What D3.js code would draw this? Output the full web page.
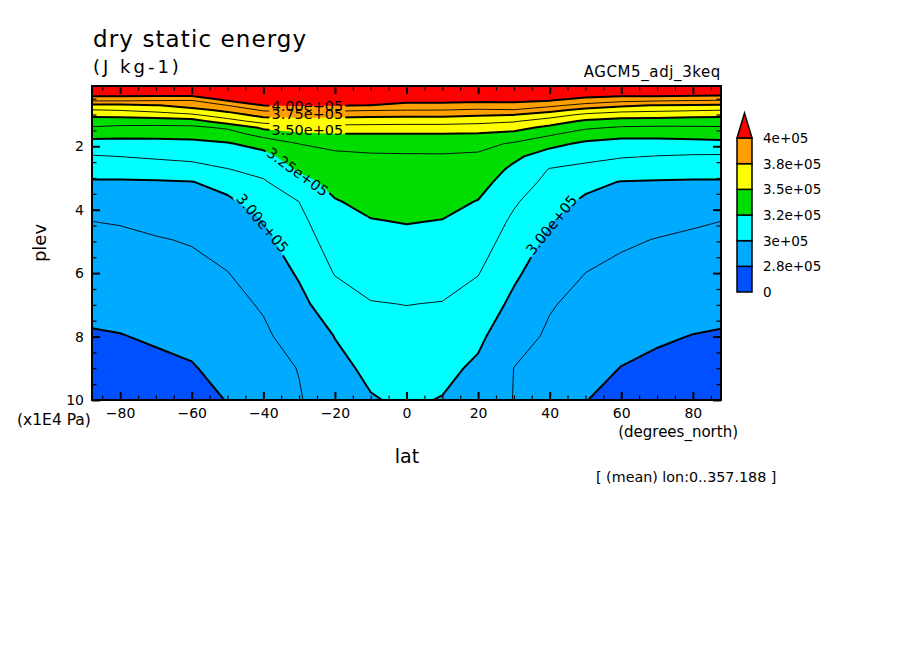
<!DOCTYPE html>
<html>
<head>
<meta charset="utf-8">
<title>dry static energy</title>
<script src="https://cdn.jsdelivr.net/npm/d3@7"></script>
<style>
  body { margin: 0; background: #fff; }
  text { font-family: "DejaVu Sans", sans-serif; }
</style>
</head>
<body>
<div id="chart"></div>
<script>
// grid: latitude columns, pressure rows (x1E4 Pa), values in kJ/kg
const lats = [-87.86, -80, -70, -60, -50, -40, -30, -20, -10, 0, 10, 20, 30, 40, 50, 60, 70, 80, 87.86];
const plevs = [0.1, 0.4, 0.56, 0.71, 0.86, 1.01, 1.21, 1.41, 1.62, 1.92, 2.32, 2.73, 3.13, 3.74, 4.34, 4.95, 5.96, 6.97, 7.98, 8.99, 10];
const dseKJ = [
  [411, 411, 411, 411, 411, 411, 411, 411, 411, 411, 411, 411, 411, 411, 411, 411, 411, 411, 411],
  [401.6, 401.6, 401.6, 401.6, 404.0, 405.6, 406.1, 405.9, 405.5, 405.1, 405.1, 404.9, 404.9, 403.8, 402.8, 401.8, 401.6, 400.7, 400.2],
  [388.6, 388.6, 387.6, 387.0, 400.5, 402.9, 403.7, 403.4, 402.8, 402.2, 402.2, 401.8, 401.8, 400.2, 395.5, 390.6, 388.6, 387.4, 386.6],
  [372.2, 371.6, 374.5, 379.5, 387.6, 400.2, 401.3, 400.8, 399.9, 397.4, 397.4, 395.8, 396.3, 390.8, 382.8, 377.5, 374.4, 373.7, 373.5],
  [361.9, 363.1, 366.7, 371.1, 378.1, 389.1, 392.7, 389.6, 388.3, 387.6, 387.4, 385.6, 386.7, 379.2, 371.1, 366.7, 365.0, 363.8, 362.6],
  [353.0, 353.8, 356.3, 360.7, 369.8, 379.4, 380.6, 379.8, 378.8, 378.1, 378.1, 376.3, 375.1, 368.4, 359.7, 355.9, 355.3, 353.9, 353.1],
  [344.1, 343.3, 343.2, 344.7, 357.1, 367.3, 368.2, 368.5, 367.7, 367.2, 367.2, 366.0, 363.6, 356.5, 347.6, 344.8, 344.4, 344.0, 344.0],
  [336.4, 334.9, 334.6, 334.8, 339.3, 352.5, 357.1, 358.3, 358.0, 357.8, 357.8, 356.9, 354.5, 346.9, 339.5, 336.3, 335.7, 335.9, 336.3],
  [329.3, 328.3, 328.2, 328.7, 332.0, 342.1, 347.6, 349.4, 349.5, 349.5, 349.5, 349.0, 346.2, 339.1, 331.5, 328.2, 328.6, 329.5, 330.4],
  [320.8, 320.8, 321.4, 322.1, 324.0, 329.2, 337.6, 340.5, 341.5, 341.8, 342.3, 341.3, 336.0, 328.5, 322.6, 320.9, 320.7, 320.8, 321.4],
  [311.6, 312.6, 314.3, 315.7, 318.1, 321.1, 331.9, 335.1, 336.1, 336.3, 336.3, 335.5, 327.4, 319.0, 315.8, 313.4, 312.1, 311.2, 310.9],
  [304.7, 304.8, 305.8, 307.8, 312.1, 315.9, 326.4, 331.9, 333.8, 334.2, 334.0, 332.4, 322.5, 311.9, 309.3, 306.0, 304.9, 304.5, 304.4],
  [298.8, 298.7, 299.0, 299.6, 304.0, 311.2, 320.8, 328.7, 331.5, 332.0, 331.7, 329.2, 319.1, 309.1, 303.1, 299.5, 299.1, 298.9, 298.8],
  [293.1, 293.4, 294.7, 295.8, 298.0, 305.6, 312.6, 324.3, 328.0, 328.8, 328.2, 324.6, 314.0, 304.9, 298.1, 296.1, 295.0, 293.8, 293.2],
  [287.6, 288.2, 290.3, 292.0, 295.1, 300.1, 309.5, 321.3, 324.6, 325.6, 324.8, 321.5, 310.4, 300.7, 295.2, 292.6, 290.9, 288.8, 287.6],
  [285.3, 285.6, 286.8, 288.3, 292.2, 297.4, 306.5, 318.3, 321.7, 322.6, 321.8, 318.4, 307.3, 297.7, 292.3, 289.1, 287.1, 285.8, 285.3],
  [281.5, 281.9, 283.2, 284.5, 287.4, 293.0, 301.5, 313.3, 316.9, 317.7, 317.0, 313.2, 302.3, 293.1, 287.6, 285.0, 283.5, 282.2, 281.6],
  [277.8, 278.3, 279.7, 281.1, 284.4, 288.6, 296.9, 306.9, 312.0, 312.7, 312.1, 307.8, 297.3, 288.4, 284.4, 281.6, 279.9, 278.5, 277.8],
  [274.1, 274.7, 276.2, 277.7, 281.4, 285.7, 292.4, 300.3, 307.1, 308.9, 307.6, 302.4, 292.3, 285.8, 281.4, 278.1, 276.2, 274.8, 274.2],
  [270.5, 271.3, 272.8, 274.3, 278.4, 283.4, 287.9, 297.1, 302.2, 305.2, 303.0, 298.0, 287.4, 283.6, 278.3, 274.8, 273.0, 271.7, 270.8],
  [267.0, 268.0, 269.5, 271.0, 275.4, 281.0, 286.7, 294.0, 299.3, 301.5, 299.5, 294.5, 287.2, 281.5, 275.2, 272.5, 270.0, 268.5, 267.5]
];

// tone levels (kJ/kg) and the colours between them, lowest first
const fillLevels = [275, 300, 325, 350, 375, 400];
const fillColors = ["#0050ff", "#00aaff", "#00ffff", "#00dd00", "#ffff00", "#ffa000", "#ff0000"];
const lineLevels = [275, 287.5, 300, 312.5, 325, 337.5, 350, 362.5, 375, 387.5, 400];
const legendLabels = ["0", "2.8e+05", "3e+05", "3.2e+05", "3.5e+05", "3.8e+05", "4e+05"];

const xMajor = [-80, -60, -40, -20, 0, 20, 40, 60, 80];
const yMajor = [2, 4, 6, 8, 10];

// contour labels, anchored in data space
const contourLabels = [
  { text: "4.00e+05", lat: -27.7, plev: 0.73, angle: 0 },
  { text: "3.75e+05", lat: -27.7, plev: 0.97, angle: 0 },
  { text: "3.50e+05", lat: -27.7, plev: 1.49, angle: 0 },
  { text: "3.25e+05", lat: -30.4, plev: 2.81, angle: 36 },
  { text: "3.00e+05", lat: -40.2, plev: 4.42, angle: 50 },
  { text: "3.00e+05", lat: 40.5, plev: 4.48, angle: -51 }
];

const width = 904, height = 654;
const frame = { left: 92, right: 721, top: 86, bottom: 400 };

const x = d3.scaleLinear().domain([-87.86, 87.86]).range([frame.left, frame.right]);
const y = d3.scaleLinear().domain([0.1, 10]).range([frame.top, frame.bottom]);

const svg = d3.select("#chart").append("svg")
  .attr("width", width)
  .attr("height", height);

const defs = svg.append("defs");
defs.append("clipPath").attr("id", "plotClip")
  .append("rect")
  .attr("x", frame.left).attr("y", frame.top)
  .attr("width", frame.right - frame.left)
  .attr("height", frame.bottom - frame.top);

// pad the grid by one cell each side (copy of the edge) so the contour
// generator's border handling falls outside the frame
const nx = lats.length + 2, ny = plevs.length + 2;
const grid = new Array(nx * ny);
for (let j = 0; j < ny; j++) {
  const row = dseKJ[Math.max(0, Math.min(plevs.length - 1, j - 1))];
  for (let i = 0; i < nx; i++) {
    grid[j * nx + i] = row[Math.max(0, Math.min(lats.length - 1, i - 1))];
  }
}
const padLats = [lats[0] - 5].concat(lats, [lats[lats.length - 1] + 5]);
const padPlevs = [plevs[0] - 0.4].concat(plevs, [plevs[plevs.length - 1] + 0.6]);

// d3.contours puts grid value i at coordinate i + 0.5
const colToLat = d3.scaleLinear().domain(padLats.map((d, i) => i + 0.5)).range(padLats);
const rowToPlev = d3.scaleLinear().domain(padPlevs.map((d, i) => i + 0.5)).range(padPlevs);

const path = d3.geoPath(d3.geoTransform({
  point: function (px, py) {
    this.stream.point(x(colToLat(px)), y(rowToPlev(py)));
  }
}));

const plot = svg.append("g").attr("clip-path", "url(#plotClip)");

// tone
plot.append("rect")
  .attr("x", frame.left).attr("y", frame.top)
  .attr("width", frame.right - frame.left)
  .attr("height", frame.bottom - frame.top)
  .attr("fill", fillColors[0]);

const bands = d3.contours().size([nx, ny]).thresholds(fillLevels)(grid);
plot.selectAll("path.band")
  .data(bands)
  .join("path")
  .attr("class", "band")
  .attr("d", path)
  .attr("fill", (d, i) => fillColors[i + 1]);

// labels go on first so we can measure them for the line mask
const labelG = svg.append("g").attr("font-size", 14.5).attr("fill", "#000");
const labelNodes = labelG.selectAll("text")
  .data(contourLabels)
  .join("text")
  .attr("transform", d => `translate(${x(d.lat)},${y(d.plev)}) rotate(${d.angle})`)
  .attr("text-anchor", "middle")
  .attr("dy", "0.36em")
  .text(d => d.text);

const mask = defs.append("mask").attr("id", "labelMask")
  .attr("maskUnits", "userSpaceOnUse")
  .attr("x", 0).attr("y", 0).attr("width", width).attr("height", height);
mask.append("rect").attr("width", width).attr("height", height).attr("fill", "#fff");
labelNodes.each(function (d) {
  const len = this.getComputedTextLength();
  mask.append("rect")
    .attr("x", -len / 2 - 2).attr("y", -7.5)
    .attr("width", len + 4).attr("height", 15)
    .attr("transform", `translate(${x(d.lat)},${y(d.plev)}) rotate(${d.angle})`)
    .attr("fill", "#000");
});

// contour lines
const lines = d3.contours().size([nx, ny]).thresholds(lineLevels)(grid);
plot.append("g")
  .attr("mask", "url(#labelMask)")
  .selectAll("path")
  .data(lines)
  .join("path")
  .attr("d", path)
  .attr("fill", "none")
  .attr("stroke", "#000")
  .attr("stroke-linejoin", "round")
  .attr("stroke-width", d => (d.value % 25 === 0 ? 2 : 0.9));

labelG.raise();

// axes: inward ticks on all four sides
const xMinor = d3.range(-85, 90, 5).filter(d => d % 20 !== 0);
const yMinor = d3.range(0.5, 10, 0.5).filter(d => d % 2 !== 0);

const sides = [
  { gen: d3.axisBottom, scale: x, at: `translate(0,${frame.bottom})`, major: xMajor, minor: xMinor, labels: true },
  { gen: d3.axisTop, scale: x, at: `translate(0,${frame.top})`, major: xMajor, minor: xMinor, labels: false },
  { gen: d3.axisLeft, scale: y, at: `translate(${frame.left},0)`, major: yMajor, minor: yMinor, labels: true },
  { gen: d3.axisRight, scale: y, at: `translate(${frame.right},0)`, major: yMajor, minor: yMinor, labels: false }
];

sides.forEach(function (s) {
  const gMinor = svg.append("g")
    .attr("transform", s.at)
    .call(s.gen(s.scale).tickValues(s.minor).tickSize(-4.5).tickSizeOuter(0).tickFormat(""));
  gMinor.select(".domain").remove();
  gMinor.selectAll("line").attr("stroke-width", 1.2);

  const gMajor = svg.append("g")
    .attr("transform", s.at)
    .call(s.gen(s.scale).tickValues(s.major).tickSize(-8).tickSizeOuter(0).tickPadding(8)
      .tickFormat(s.labels ? d3.format("d") : ""))
    .attr("font-size", 14)
    .attr("font-family", "DejaVu Sans, sans-serif");
  gMajor.select(".domain").remove();
  gMajor.selectAll("line").attr("stroke-width", 2);
});

// frame
svg.append("rect")
  .attr("x", frame.left).attr("y", frame.top)
  .attr("width", frame.right - frame.left)
  .attr("height", frame.bottom - frame.top)
  .attr("fill", "none")
  .attr("stroke", "#000")
  .attr("stroke-width", 2);

// colour bar
const barX = 737, barW = 15;
const legendY = d3.scaleLinear().domain([0, fillColors.length - 1]).range([292, 138]);
const legend = svg.append("g");

legend.selectAll("rect")
  .data(fillColors.slice(0, -1))
  .join("rect")
  .attr("x", barX)
  .attr("y", (d, i) => legendY(i + 1))
  .attr("width", barW)
  .attr("height", (d, i) => legendY(i) - legendY(i + 1))
  .attr("fill", d => d)
  .attr("stroke", "#000")
  .attr("stroke-width", 1.5);

const topY = legendY(fillColors.length - 1);
legend.append("path")
  .attr("d", `M${barX},${topY}L${barX + barW},${topY}L${barX + barW / 2},${topY - 25}Z`)
  .attr("fill", fillColors[fillColors.length - 1])
  .attr("stroke", "#000")
  .attr("stroke-width", 1.5);

legend.selectAll("text")
  .data(legendLabels)
  .join("text")
  .attr("x", 763)
  .attr("y", (d, i) => legendY(i))
  .attr("dy", "0.36em")
  .attr("font-size", 13.5)
  .text(d => d);

// titles and axis names
svg.append("text")
  .attr("x", 93).attr("y", 47)
  .attr("font-size", 23)
  .attr("letter-spacing", 1.1)
  .text("dry static energy");

svg.append("text")
  .attr("x", 93).attr("y", 73)
  .attr("font-size", 18)
  .attr("letter-spacing", 3)
  .text("(J kg-1)");

svg.append("text")
  .attr("x", 721).attr("y", 77)
  .attr("text-anchor", "end")
  .attr("font-size", 15)
  .attr("letter-spacing", 0.6)
  .text("AGCM5_adj_3keq");

svg.append("text")
  .attr("transform", "translate(46,243) rotate(-90)")
  .attr("text-anchor", "middle")
  .attr("font-size", 18)
  .text("plev");

svg.append("text")
  .attr("x", 407).attr("y", 463)
  .attr("text-anchor", "middle")
  .attr("font-size", 19)
  .text("lat");

svg.append("text")
  .attr("x", 17).attr("y", 425)
  .attr("font-size", 15.5)
  .text("(x1E4 Pa)");

svg.append("text")
  .attr("x", 738).attr("y", 437)
  .attr("text-anchor", "end")
  .attr("font-size", 15)
  .text("(degrees_north)");

svg.append("text")
  .attr("x", 596).attr("y", 482)
  .attr("font-size", 14.3)
  .text("[ (mean) lon:0..357.188 ]");
</script>
</body>
</html>
